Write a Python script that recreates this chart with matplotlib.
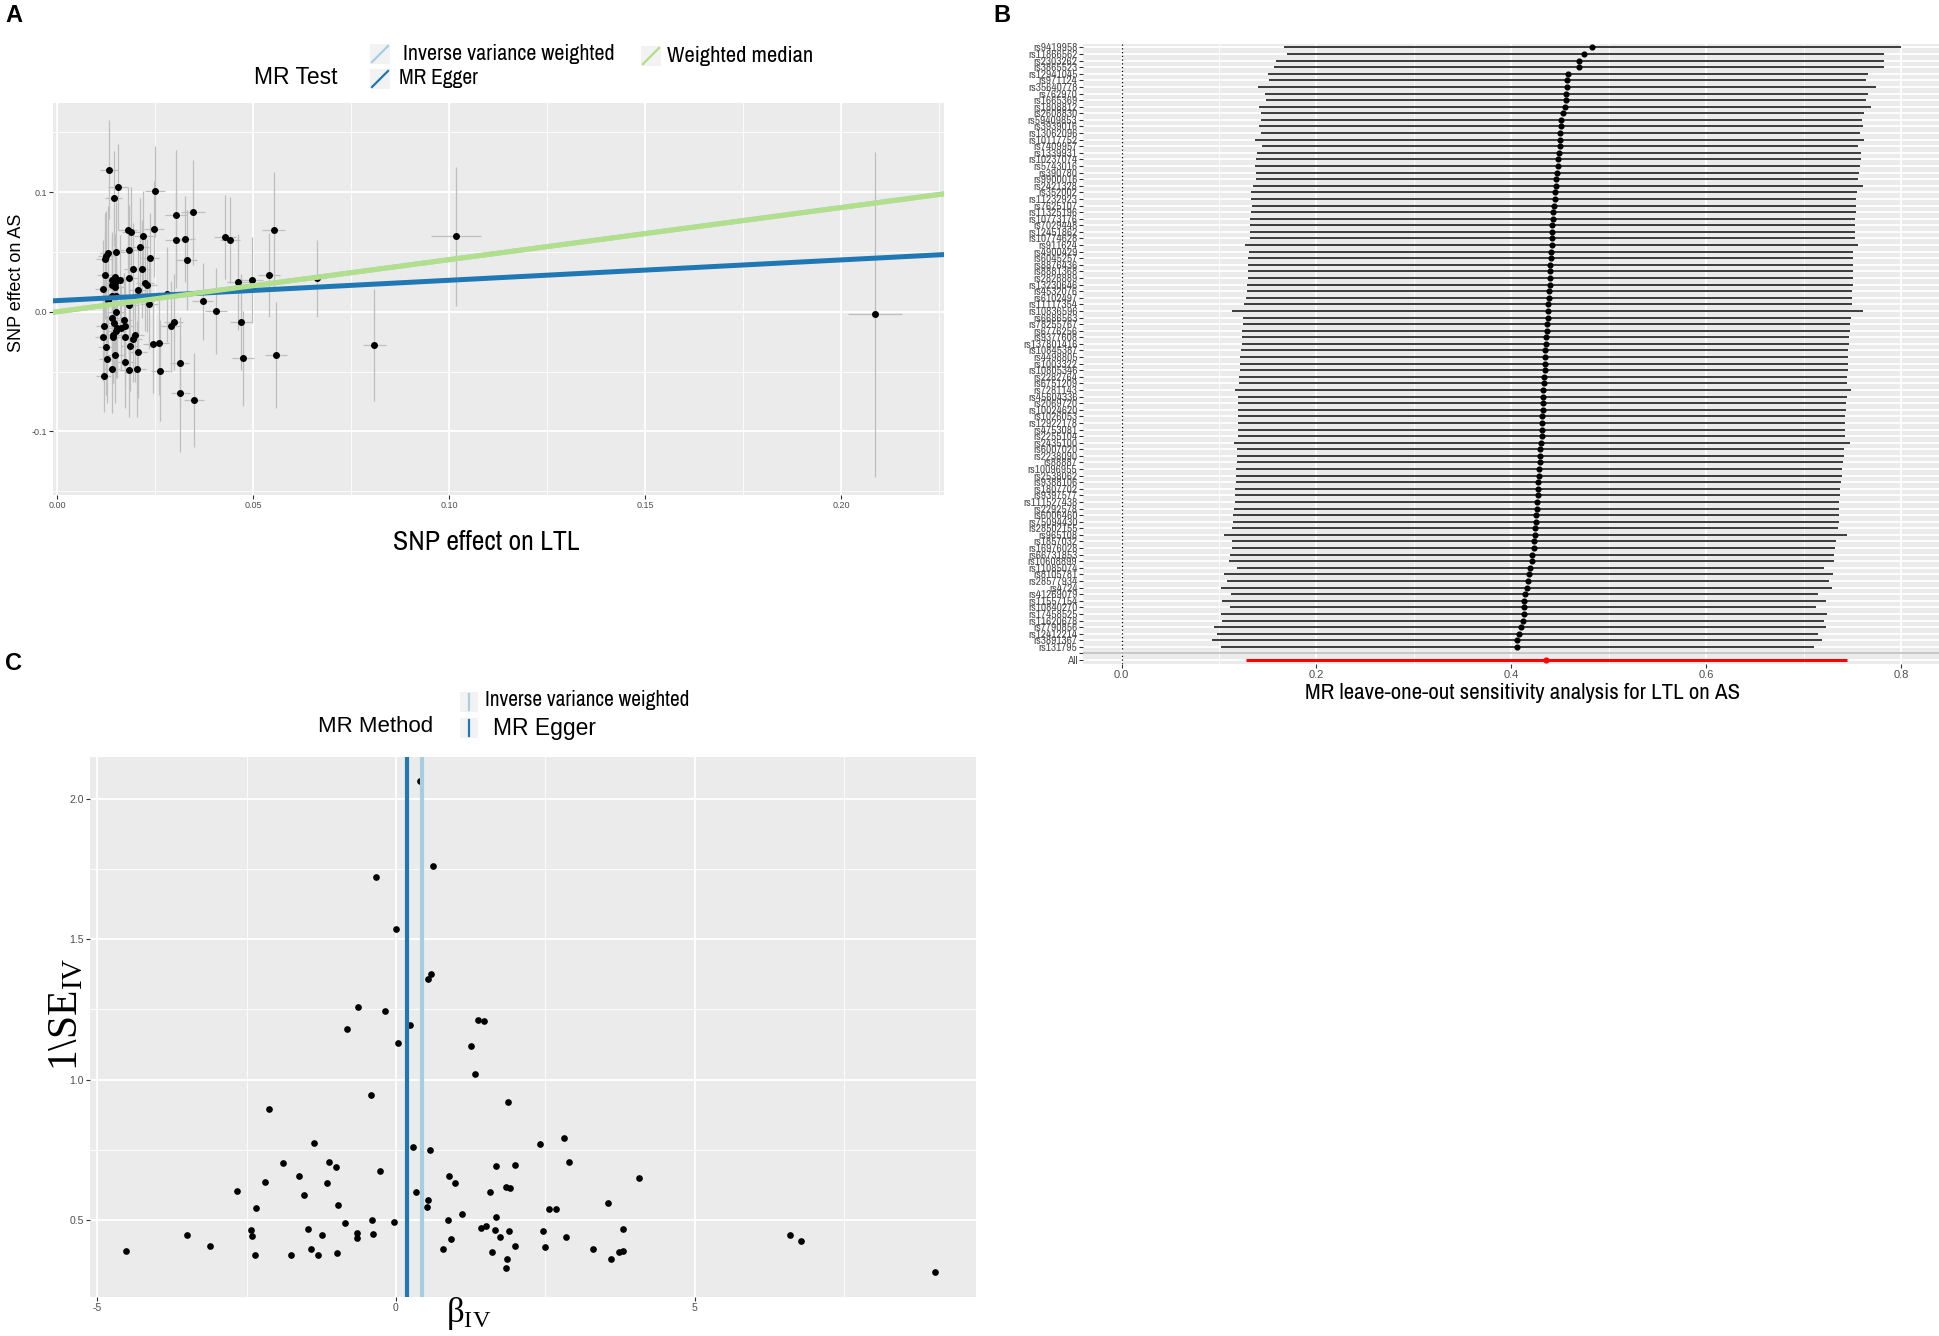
import matplotlib.pyplot as plt
from matplotlib.patches import Rectangle
from matplotlib.lines import Line2D

W, H = 1940, 1336
plt.rcParams.update({'font.family': ['Liberation Sans', 'DejaVu Sans'],
                     'mathtext.fontset': 'custom',
                     'mathtext.rm': 'Liberation Serif',
                     'mathtext.it': 'Liberation Serif:italic'})
NARROW = ['Archivo Narrow', 'DejaVu Sans']
SERIF = ['Liberation Serif', 'DejaVu Serif']

ivw_col = '#A6CEE3'
egger_col = '#1F78B4'
wm_col = '#B2DF8A'

# ---- panel A: SNP effects (exposure LTL, outcome AS)
bx = [0.0131, 0.0155, 0.0144, 0.0250, 0.0302, 0.0346, 0.0180, 0.0189, 0.0247, 0.0219,
      0.0303, 0.0326, 0.0428, 0.0441, 0.0552, 0.0150, 0.0183, 0.0210, 0.0129, 0.0125,
      0.0121, 0.0236, 0.0330, 0.0192, 0.0216, 0.0122, 0.0183, 0.0146, 0.0139, 0.0159,
      0.0146, 0.0224, 0.0230, 0.0140, 0.0148, 0.0117, 0.0205, 0.0460, 0.0497, 0.0540,
      0.0281, 0.0140, 0.0150, 0.0129, 0.0183, 0.0234, 0.0371, 0.0405, 0.0150, 0.0140,
      0.0169, 0.0144, 0.0118, 0.0174, 0.0162, 0.0152, 0.0149, 0.0297, 0.0290, 0.0469,
      0.0116, 0.0142, 0.0142, 0.0173, 0.0199, 0.0194, 0.0125, 0.0185, 0.0243, 0.0259,
      0.0206, 0.0148, 0.0558, 0.0127, 0.0473, 0.0174, 0.0312, 0.0139, 0.0184, 0.0204,
      0.0263, 0.0118, 0.0314, 0.0349, 0.0662, 0.1017, 0.0809, 0.2088]
by = [0.1186, 0.1039, 0.0947, 0.1008, 0.0805, 0.0830, 0.0680, 0.0666, 0.0693, 0.0635,
      0.0599, 0.0610, 0.0624, 0.0599, 0.0680, 0.0496, 0.0515, 0.0540, 0.0487, 0.0465,
      0.0437, 0.0451, 0.0432, 0.0354, 0.0356, 0.0306, 0.0284, 0.0292, 0.0265, 0.0262,
      0.0242, 0.0242, 0.0220, 0.0220, 0.0209, 0.0187, 0.0178, 0.0251, 0.0262, 0.0306,
      0.0145, 0.0128, 0.0128, 0.0097, 0.0058, 0.0067, 0.0086, 0.0008, -0.0006, -0.0056,
      -0.0070, -0.0092, -0.0117, -0.0117, -0.0139, -0.0134, -0.0162, -0.0084, -0.0120, -0.0084,
      -0.0209, -0.0195, -0.0214, -0.0214, -0.0195, -0.0226, -0.0292, -0.0284, -0.0273, -0.0262,
      -0.0334, -0.0362, -0.0362, -0.0395, -0.0390, -0.0420, -0.0426, -0.0482, -0.0487, -0.0476,
      -0.0493, -0.0535, -0.0682, -0.0738, 0.0278, 0.0630, -0.0278, -0.0022]
se_bx = [0.0023, 0.0025, 0.0022, 0.0025, 0.0028, 0.0030, 0.0024, 0.0023, 0.0026, 0.0024,
         0.0027, 0.0026, 0.0027, 0.0026, 0.0030, 0.0022, 0.0023, 0.0024, 0.0021, 0.0021,
         0.0021, 0.0024, 0.0027, 0.0023, 0.0024, 0.0021, 0.0023, 0.0022, 0.0022, 0.0022,
         0.0022, 0.0024, 0.0024, 0.0021, 0.0022, 0.0020, 0.0023, 0.0028, 0.0028, 0.0029,
         0.0025, 0.0021, 0.0022, 0.0021, 0.0023, 0.0024, 0.0027, 0.0028, 0.0022, 0.0021,
         0.0022, 0.0021, 0.0020, 0.0022, 0.0022, 0.0021, 0.0021, 0.0025, 0.0025, 0.0028,
         0.0020, 0.0021, 0.0021, 0.0022, 0.0023, 0.0023, 0.0020, 0.0023, 0.0024, 0.0025,
         0.0023, 0.0021, 0.0028, 0.0021, 0.0028, 0.0022, 0.0025, 0.0021, 0.0023, 0.0023,
         0.0025, 0.0020, 0.0025, 0.0026, 0.0025, 0.0064, 0.0030, 0.0069]
se_by = [0.0415, 0.036, 0.040, 0.038, 0.055, 0.044, 0.036, 0.038, 0.040, 0.037,
         0.040, 0.036, 0.035, 0.036, 0.049, 0.042, 0.038, 0.041, 0.040, 0.038,
         0.039, 0.037, 0.042, 0.039, 0.041, 0.037, 0.043, 0.036, 0.040, 0.038,
         0.037, 0.040, 0.039, 0.042, 0.036, 0.041, 0.038, 0.040, 0.036, 0.035,
         0.040, 0.039, 0.041, 0.037, 0.042, 0.038, 0.032, 0.036, 0.040, 0.038,
         0.039, 0.041, 0.037, 0.040, 0.036, 0.042, 0.039, 0.040, 0.038, 0.040,
         0.037, 0.040, 0.038, 0.041, 0.039, 0.036, 0.040, 0.038, 0.041, 0.043,
         0.039, 0.040, 0.044, 0.037, 0.040, 0.038, 0.038, 0.036, 0.039, 0.040,
         0.042, 0.030, 0.049, 0.039, 0.032, 0.058, 0.047, 0.136]

# MR estimates (slope, intercept)
ivw_b = 0.4356
egger_b, egger_int = 0.170, 0.0093
wm_b = 0.435

# ---- panel B: leave-one-out
snps = ['rs9419958', 'rs11866562', 'rs2303262', 'rs3865523', 'rs12941045', 'rs971124',
        'rs35640778', 'rs762970', 'rs1665369', 'rs1808812', 'rs2608830', 'rs59409853',
        'rs3939016', 'rs13062096', 'rs10117752', 'rs7409957', 'rs1339931', 'rs10237074',
        'rs5743016', 'rs390780', 'rs9900016', 'rs2421328', 'rs352002', 'rs11232923',
        'rs7625107', 'rs11325196', 'rs10773176', 'rs7029448', 'rs12451862', 'rs10774628',
        'rs911624', 'rs4900429', 'rs6045257', 'rs8876436', 'rs8881368', 'rs2828889',
        'rs13230646', 'rs4532076', 'rs6102497', 'rs11117354', 'rs10836596', 'rs6686563',
        'rs78255767', 'rs6776256', 'rs9377608', 'rs137801416', 'rs10845387', 'rs4498805',
        'rs1003322', 'rs10805346', 'rs2282764', 'rs6751209', 'rs7281143', 'rs45604336',
        'rs2069720', 'rs10024620', 'rs1026053', 'rs12922178', 'rs4753081', 'rs2255104',
        'rs2435100', 'rs6007020', 'rs2238090', 'rs88887', 'rs10096955', 'rs2538062',
        'rs9388106', 'rs1807702', 'rs9397577', 'rs111527438', 'rs2292578', 'rs6006460',
        'rs75094430', 'rs28502155', 'rs965108', 'rs1857032', 'rs16976028', 'rs66731853',
        'rs10608899', 'rs11085074', 'rs8105781', 'rs28577934', 'rs4724', 'rs41269079',
        'rs11557154', 'rs10840270', 'rs17458525', 'rs11620678', 'rs7790856', 'rs12412214',
        'rs3891367', 'rs131795']
b_loo = [0.4825, 0.4749, 0.4698, 0.4692, 0.4578, 0.4571, 0.4571, 0.4565, 0.4565, 0.4546,
         0.4527, 0.4514, 0.4508, 0.4502, 0.4502, 0.4495, 0.4489, 0.4483, 0.4476, 0.4470,
         0.4463, 0.4457, 0.4451, 0.4444, 0.4438, 0.4432, 0.4425, 0.4419, 0.4419, 0.4413,
         0.4413, 0.4406, 0.4406, 0.4400, 0.4400, 0.4394, 0.4394, 0.4387, 0.4387, 0.4381,
         0.4375, 0.4375, 0.4368, 0.4362, 0.4356, 0.4356, 0.4349, 0.4349, 0.4343, 0.4343,
         0.4337, 0.4337, 0.4330, 0.4330, 0.4324, 0.4324, 0.4317, 0.4317, 0.4311, 0.4311,
         0.4305, 0.4298, 0.4298, 0.4292, 0.4286, 0.4286, 0.4279, 0.4279, 0.4273, 0.4267,
         0.4260, 0.4254, 0.4254, 0.4248, 0.4241, 0.4235, 0.4229, 0.4216, 0.4210, 0.4197,
         0.4184, 0.4171, 0.4165, 0.4140, 0.4133, 0.4127, 0.4127, 0.4121, 0.4095, 0.4076,
         0.4063, 0.4063]
lo_loo = [0.1663, 0.1702, 0.1587, 0.1562, 0.1498, 0.1511, 0.1397, 0.1473, 0.1479, 0.1410,
          0.1435, 0.1429, 0.1410, 0.1429, 0.1371, 0.1441, 0.1390, 0.1378, 0.1371, 0.1378,
          0.1384, 0.1352, 0.1327, 0.1333, 0.1340, 0.1327, 0.1314, 0.1321, 0.1321, 0.1314,
          0.1270, 0.1308, 0.1302, 0.1295, 0.1295, 0.1295, 0.1289, 0.1289, 0.1276, 0.1257,
          0.1137, 0.1251, 0.1244, 0.1238, 0.1232, 0.1232, 0.1225, 0.1219, 0.1219, 0.1213,
          0.1206, 0.1206, 0.1162, 0.1200, 0.1194, 0.1194, 0.1194, 0.1194, 0.1194, 0.1194,
          0.1149, 0.1187, 0.1187, 0.1181, 0.1175, 0.1175, 0.1175, 0.1168, 0.1162, 0.1162,
          0.1156, 0.1143, 0.1143, 0.1137, 0.1048, 0.1137, 0.1130, 0.1111, 0.1105, 0.1181,
          0.1054, 0.1086, 0.1022, 0.1124, 0.1035, 0.1111, 0.1016, 0.1035, 0.0952, 0.0984,
          0.0933, 0.1016]
hi_loo = [0.8000, 0.7822, 0.7822, 0.7829, 0.7663, 0.7644, 0.7746, 0.7663, 0.7638, 0.7689,
          0.7625, 0.7600, 0.7606, 0.7581, 0.7625, 0.7562, 0.7594, 0.7587, 0.7581, 0.7568,
          0.7556, 0.7606, 0.7543, 0.7537, 0.7537, 0.7537, 0.7530, 0.7524, 0.7524, 0.7524,
          0.7562, 0.7511, 0.7511, 0.7511, 0.7505, 0.7505, 0.7505, 0.7498, 0.7498, 0.7498,
          0.7606, 0.7486, 0.7473, 0.7473, 0.7467, 0.7467, 0.7460, 0.7460, 0.7454, 0.7454,
          0.7448, 0.7448, 0.7486, 0.7441, 0.7435, 0.7435, 0.7429, 0.7429, 0.7429, 0.7422,
          0.7473, 0.7410, 0.7410, 0.7403, 0.7397, 0.7390, 0.7384, 0.7378, 0.7371, 0.7365,
          0.7359, 0.7359, 0.7359, 0.7352, 0.7441, 0.7333, 0.7327, 0.7308, 0.7314, 0.7206,
          0.7302, 0.7257, 0.7289, 0.7143, 0.7225, 0.7130, 0.7238, 0.7213, 0.7225, 0.7143,
          0.7194, 0.7111]
all_b, all_lo, all_hi = 0.4356, 0.1276, 0.745

# ---- panel C: funnel plot
beta_iv = [0.402, 0.625, -0.340, -0.006, 0.580, 0.541, -0.642, -0.179, 0.240, -0.820,
           0.028, 1.378, 1.473, 1.250, 1.328, -0.413, -2.132, -1.367, 0.290, 0.564,
           -1.886, -1.122, -1.010, -0.273, -1.624, -2.188, -1.150, -2.667, -1.540, 0.335,
           0.893, 0.982, 1.669, 1.568, -2.349, -0.965, 0.536, 0.519, -0.396, -0.033,
           0.865, 1.105, 1.674, -0.854, -2.433, -1.468, 1.423, 1.501, 1.657, -3.504,
           -2.411, -1.233, -0.647, -0.653, -0.391, 0.921, 1.735, -3.119, -4.520, -2.355,
           -1.763, -1.417, -1.306, -0.982, 0.781, 1.613, 1.869, 2.411, 2.813, 2.896,
           1.987, 1.842, 1.914, 4.068, 3.549, 2.567, 2.684, 1.897, 2.461, 2.840,
           3.806, 1.998, 2.494, 3.298, 1.853, 1.847, 3.594, 3.728, 3.795, 6.596,
           6.780, 9.029]
inv_se = [2.062, 1.760, 1.721, 1.538, 1.377, 1.358, 1.260, 1.243, 1.196, 1.180,
          1.131, 1.211, 1.208, 1.121, 1.021, 0.946, 0.895, 0.775, 0.761, 0.751,
          0.703, 0.707, 0.688, 0.675, 0.656, 0.637, 0.632, 0.603, 0.589, 0.600,
          0.658, 0.630, 0.694, 0.599, 0.543, 0.554, 0.571, 0.545, 0.500, 0.493,
          0.501, 0.520, 0.512, 0.488, 0.463, 0.469, 0.473, 0.480, 0.463, 0.445,
          0.442, 0.447, 0.455, 0.435, 0.450, 0.434, 0.439, 0.408, 0.391, 0.377,
          0.377, 0.395, 0.375, 0.384, 0.397, 0.385, 0.919, 0.771, 0.793, 0.708,
          0.697, 0.616, 0.613, 0.651, 0.561, 0.540, 0.540, 0.461, 0.462, 0.441,
          0.467, 0.406, 0.403, 0.397, 0.361, 0.330, 0.361, 0.386, 0.391, 0.446,
          0.425, 0.315]
ivw_c = 0.441
egger_c = 0.179


def fx(x):
    return x / W


def fy(y):
    return 1 - y / H


def theme_grey(ax):
    ax.set_facecolor('#EBEBEB')
    for s in ax.spines.values():
        s.set_visible(False)
    ax.set_axisbelow(True)
    ax.grid(True, which='major', color='white', lw=1.3)
    ax.grid(True, which='minor', color='white', lw=0.6)
    ax.tick_params(which='major', length=3, width=0.8, color='#333333',
                   labelcolor='#4D4D4D', pad=1.5)
    ax.tick_params(which='minor', length=0)


def key(x0, y0, w, h, color, diag=True):
    fig.add_artist(Rectangle((fx(x0), fy(y0 + h)), w / W, h / H, transform=fig.transFigure,
                             facecolor='#F2F2F2', edgecolor='none'))
    if diag:
        xs, ys = [fx(x0 + 2), fx(x0 + w - 2)], [fy(y0 + h - 2), fy(y0 + 2)]
    else:
        xs, ys = [fx(x0 + w / 2)] * 2, [fy(y0 + h - 2), fy(y0 + 2)]
    fig.add_artist(Line2D(xs, ys, transform=fig.transFigure, color=color, lw=1.6))


fig = plt.figure(figsize=(W / 100, H / 100), dpi=100)

# ================= A =================
axA = fig.add_axes([fx(53), fy(495), (944 - 53) / W, (495 - 103) / H])
theme_grey(axA)
axA.vlines(bx, [y - s for y, s in zip(by, se_by)], [y + s for y, s in zip(by, se_by)],
           color='#BEBEBE', lw=0.9, zorder=2)
axA.hlines(by, [x - s for x, s in zip(bx, se_bx)], [x + s for x, s in zip(bx, se_bx)],
           color='#BEBEBE', lw=0.9, zorder=2)
axA.plot(bx, by, 'o', color='black', ms=4, zorder=3)
axA.axline((0, 0), slope=ivw_b, color=ivw_col, lw=3.6, zorder=4)
axA.axline((0, egger_int), slope=egger_b, color=egger_col, lw=3.6, zorder=4)
axA.axline((0, 0), slope=wm_b, color=wm_col, lw=3.6, zorder=5)
axA.set_xlim(-0.0011, 0.2263)
axA.set_ylim(-0.1531, 0.1744)
axA.set_xticks([0, 0.05, 0.10, 0.15, 0.20], ['0.00', '0.05', '0.10', '0.15', '0.20'])
axA.set_xticks([0.025, 0.075, 0.125, 0.175, 0.225], minor=True)
axA.set_yticks([-0.1, 0.0, 0.1], ['-0.1', '0.0', '0.1'])
axA.set_yticks([-0.15, -0.05, 0.05, 0.15], minor=True)
axA.tick_params(labelsize=6.5)

fig.text(fx(17), fy(283), 'SNP effect on AS', rotation=90, ha='center', va='center',
         fontsize=13, color='black')
fig.text(fx(486), fy(542), 'SNP effect on LTL', ha='center', va='center',
         fontsize=20, family=NARROW, color='black')

# legend A
fig.text(fx(254), fy(78), 'MR Test', ha='left', va='center', fontsize=16.5)
key(370, 44, 20, 20, ivw_col)
key(370, 69, 20, 20, egger_col)
key(641, 46, 20, 20, wm_col)
fig.text(fx(403), fy(54), 'Inverse variance weighted', ha='left', va='center',
         fontsize=15.8, family=NARROW)
fig.text(fx(399), fy(78), 'MR Egger', ha='left', va='center', fontsize=15.4, family=NARROW)
fig.text(fx(667), fy(56), 'Weighted median', ha='left', va='center', fontsize=16.2,
         family=NARROW)

# ================= B =================
axB = fig.add_axes([fx(1083), fy(664), (1940 - 1083) / W, (664 - 43.5) / H])
theme_grey(axB)
n = len(snps)
pos = [n + 2 - i for i in range(n)]
axB.axvline(0, color='black', ls=(0, (1, 2)), lw=0.9, zorder=2)
axB.hlines(pos, lo_loo, hi_loo, color='#1A1A1A', lw=1.2, zorder=3)
axB.hlines([1], [all_lo], [all_hi], color='#FF0000', lw=2.2, zorder=3)
axB.plot(b_loo, pos, 'o', color='black', ms=3.4, zorder=4)
axB.plot([all_b], [1], 'o', color='#FF0000', ms=3.4, zorder=4)
axB.axhline(2, color='#BEBEBE', lw=1.2, zorder=2)
axB.set_xlim(-0.0396, 0.840)
axB.set_ylim(0.4, n + 2.6)
axB.set_xticks([0, 0.2, 0.4, 0.6, 0.8], ['0.0', '0.2', '0.4', '0.6', '0.8'])
axB.set_xticks([0.1, 0.3, 0.5, 0.7], minor=True)
axB.set_yticks([1, 2] + pos, ['All', ''] + snps)
axB.tick_params(axis='x', labelsize=8)
axB.tick_params(axis='y', labelsize=8.2, pad=1)
for t in axB.get_yticklabels():
    t.set_family(NARROW)
fig.text(fx(1523), fy(693), 'MR leave-one-out sensitivity analysis for LTL on AS',
         ha='center', va='center', fontsize=16.5, family=NARROW, color='black')

# ================= C =================
axC = fig.add_axes([fx(90), fy(1297), (976 - 90) / W, (1297 - 757) / H])
theme_grey(axC)
axC.plot(beta_iv, inv_se, 'o', color='black', ms=3.8, zorder=3)
axC.axvline(ivw_c, color=ivw_col, lw=3, zorder=4)
axC.axvline(egger_c, color=egger_col, lw=3, zorder=4)
axC.set_xlim(-5.12, 9.71)
axC.set_ylim(0.2257, 2.149)
axC.set_xticks([-5, 0, 5], ['-5', '0', '5'])
axC.set_xticks([-2.5, 2.5, 7.5], minor=True)
axC.set_yticks([0.5, 1.0, 1.5, 2.0], ['0.5', '1.0', '1.5', '2.0'])
axC.set_yticks([0.75, 1.25, 1.75], minor=True)
axC.tick_params(labelsize=7.5)

fig.text(fx(67), fy(1014), '1\\SE$_{\\mathrm{IV}}$', rotation=90, ha='center', va='center',
         fontsize=30, family=SERIF, color='black')
fig.text(fx(469), fy(1314), '\u03b2$_{\\mathrm{IV}}$', ha='center', va='center',
         fontsize=25, family=SERIF, color='black')

# legend C
fig.text(fx(318), fy(727), 'MR Method', ha='left', va='center', fontsize=16)
key(460, 692, 18, 20, ivw_col, diag=False)
key(460, 718, 18, 20, egger_col, diag=False)
fig.text(fx(485), fy(700), 'Inverse variance weighted', ha='left', va='center',
         fontsize=15.3, family=NARROW)
fig.text(fx(493), fy(728), 'MR Egger', ha='left', va='center', fontsize=16.5)

# panel letters
for lab, x, y in [('A', 14, 16), ('B', 1002, 16), ('C', 14, 664)]:
    fig.text(fx(x), fy(y), lab, ha='center', va='center', fontsize=17, fontweight='bold')

fig.savefig('out.png', dpi=100)
